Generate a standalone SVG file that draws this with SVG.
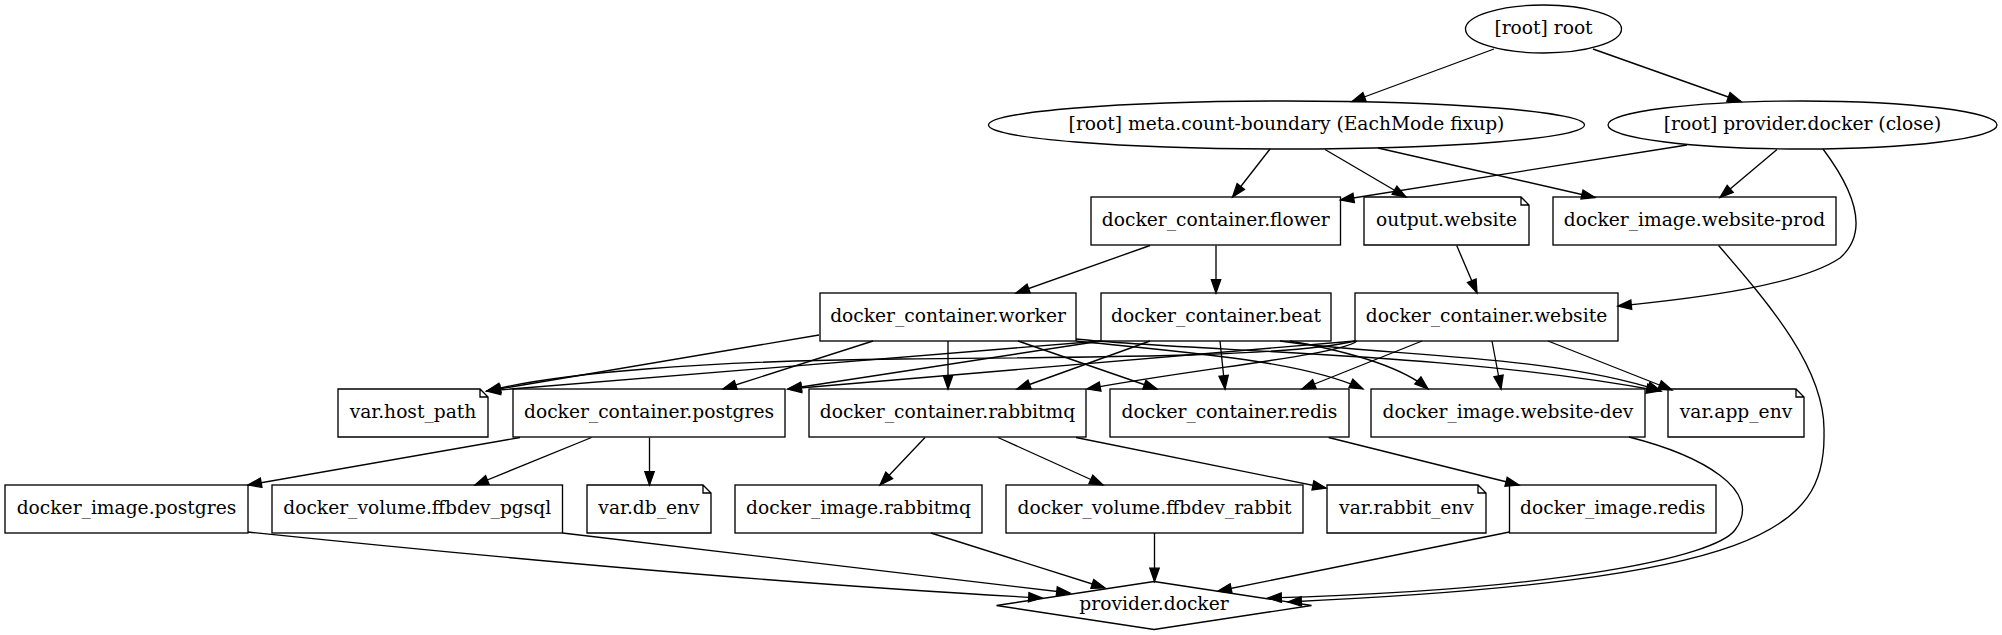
<svg xmlns="http://www.w3.org/2000/svg" width="2002" height="635" viewBox="0 0 2002 635">
<style>
.n{fill:none;stroke:#000;stroke-width:1.33}
.t{font-family:"DejaVu Serif","Liberation Serif",serif;font-size:18.67px;text-anchor:middle;fill:#000}
.e{fill:none;stroke:#000;stroke-width:1.33;marker-end:url(#ah)}
</style>
<defs>
<marker id="ah" markerUnits="userSpaceOnUse" markerWidth="16" markerHeight="12" refX="13.33" refY="4.67" orient="auto" overflow="visible">
<path d="M0,0 L13.33,4.67 L0,9.33 Z" fill="#000" stroke="#000" stroke-width="1.33"/>
</marker>
</defs>
<rect width="2002" height="635" fill="#fff"/>
<g id="edges">
<path class="e" d="M1494,49 L1352,101.5"/>
<path class="e" d="M1593,49 L1741,101.5"/>
<path class="e" d="M1270,149 L1232.6,197"/>
<path class="e" d="M1325,149.5 L1406,197"/>
<path class="e" d="M1378,148 L1595,197.5"/>
<path class="e" d="M1687,145 L1340.5,200"/>
<path class="e" d="M1777,149.5 L1720,197.5"/>
<path class="e" d="M1823,149 C1850,185 1872,230 1840,258 C1800,285 1700,298 1618,306"/>
<path class="e" d="M1150,245.5 L1016,293"/>
<path class="e" d="M1216,245.5 L1216,293"/>
<path class="e" d="M1456.7,245.5 L1477,293"/>
<path class="e" d="M819,335 L487,391"/>
<path class="e" d="M873,341 L723,389"/>
<path class="e" d="M948,341 L948,389"/>
<path class="e" d="M1018,341 L1157,389"/>
<path class="e" d="M1076,341 C1180,352 1300,360 1363,389"/>
<path class="e" d="M1076,339 C1200,352 1450,352 1660,391"/>
<path class="e" d="M1101,341 L487,391"/>
<path class="e" d="M1101,341 L788,389"/>
<path class="e" d="M1150,341 L1017,389"/>
<path class="e" d="M1220,341 L1225,389"/>
<path class="e" d="M1290,341 C1340,350 1400,365 1428,389"/>
<path class="e" d="M1280,341 C1380,356 1550,354 1661,391"/>
<path class="e" d="M1355,341 C1290,357 1100,357 900,359 C700,361 560,373 487,391"/>
<path class="e" d="M1355,341 L788,389"/>
<path class="e" d="M1357,341 C1340,355 1200,368 1087,389"/>
<path class="e" d="M1422,341 L1302,389"/>
<path class="e" d="M1492,341 L1501,389"/>
<path class="e" d="M1548,341 L1672,390"/>
<path class="e" d="M520,437.5 L248,485"/>
<path class="e" d="M591.5,437.5 L475,485"/>
<path class="e" d="M649.5,437.5 L649.5,485"/>
<path class="e" d="M925,437.5 L880,485"/>
<path class="e" d="M998,437.5 L1103,485"/>
<path class="e" d="M1076,437.5 L1326,488"/>
<path class="e" d="M1328.6,437.5 L1519,485"/>
<path class="e" d="M248,532 C500,558 800,585 1042,598"/>
<path class="e" d="M562.5,533 L1070,593"/>
<path class="e" d="M931,533 L1105,588"/>
<path class="e" d="M1154.5,533 L1154.5,581.5"/>
<path class="e" d="M1509.5,532 L1218,591"/>
<path class="e" d="M1629,437 C1700,455 1765,490 1735,530 C1715,557 1560,590 1268,598"/>
<path class="e" d="M1718.6,245.5 C1770,305 1826,370 1824,433 C1826,530 1760,580 1288,602"/>
</g>
<g id="root"><ellipse class="n" cx="1543.5" cy="29" rx="78" ry="24"/><text class="t" x="1543.5" y="34">[root] root</text></g>
<g id="meta"><ellipse class="n" cx="1286.5" cy="125" rx="298" ry="24"/><text class="t" x="1286.5" y="130">[root] meta.count-boundary (EachMode fixup)</text></g>
<g id="provider_close"><ellipse class="n" cx="1802.5" cy="125" rx="194.5" ry="24"/><text class="t" x="1802.5" y="130">[root] provider.docker (close)</text></g>
<g id="flower"><rect class="n" x="1091" y="197" width="249.5" height="48"/><text class="t" x="1215.75" y="226">docker_container.flower</text></g>
<g id="output_website"><path class="n" d="M1521,197 L1364,197 L1364,245 L1529,245 L1529,205 Z M1521,197 L1521,205 L1529,205"/><text class="t" x="1446.5" y="226">output.website</text></g>
<g id="website_prod"><rect class="n" x="1553" y="197" width="283" height="48"/><text class="t" x="1694.5" y="226">docker_image.website-prod</text></g>
<g id="worker"><rect class="n" x="820" y="293" width="256" height="48"/><text class="t" x="948" y="322">docker_container.worker</text></g>
<g id="beat"><rect class="n" x="1101" y="293" width="230" height="48"/><text class="t" x="1216" y="322">docker_container.beat</text></g>
<g id="website"><rect class="n" x="1355" y="293" width="263" height="48"/><text class="t" x="1486.5" y="322">docker_container.website</text></g>
<g id="host_path"><path class="n" d="M480,389 L338,389 L338,437 L488,437 L488,397 Z M480,389 L480,397 L488,397"/><text class="t" x="413" y="418">var.host_path</text></g>
<g id="postgres"><rect class="n" x="513" y="389" width="272" height="48"/><text class="t" x="649" y="418">docker_container.postgres</text></g>
<g id="rabbitmq"><rect class="n" x="809" y="389" width="277" height="48"/><text class="t" x="947.5" y="418">docker_container.rabbitmq</text></g>
<g id="redis"><rect class="n" x="1110" y="389" width="239" height="48"/><text class="t" x="1229.5" y="418">docker_container.redis</text></g>
<g id="website_dev"><rect class="n" x="1371" y="389" width="274" height="48"/><text class="t" x="1508" y="418">docker_image.website-dev</text></g>
<g id="app_env"><path class="n" d="M1796,389 L1668,389 L1668,437 L1804,437 L1804,397 Z M1796,389 L1796,397 L1804,397"/><text class="t" x="1736" y="418">var.app_env</text></g>
<g id="image_postgres"><rect class="n" x="5" y="485" width="243" height="48"/><text class="t" x="126.5" y="514">docker_image.postgres</text></g>
<g id="volume_pgsql"><rect class="n" x="272" y="485" width="290.5" height="48"/><text class="t" x="417.25" y="514">docker_volume.ffbdev_pgsql</text></g>
<g id="db_env"><path class="n" d="M703,485 L587,485 L587,533 L711,533 L711,493 Z M703,485 L703,493 L711,493"/><text class="t" x="649" y="514">var.db_env</text></g>
<g id="image_rabbitmq"><rect class="n" x="735" y="485" width="247" height="48"/><text class="t" x="858.5" y="514">docker_image.rabbitmq</text></g>
<g id="volume_rabbit"><rect class="n" x="1006" y="485" width="297" height="48"/><text class="t" x="1154.5" y="514">docker_volume.ffbdev_rabbit</text></g>
<g id="rabbit_env"><path class="n" d="M1478,485 L1327,485 L1327,533 L1486,533 L1486,493 Z M1478,485 L1478,493 L1486,493"/><text class="t" x="1406.5" y="514">var.rabbit_env</text></g>
<g id="image_redis"><rect class="n" x="1509.5" y="485" width="206.5" height="48"/><text class="t" x="1612.75" y="514">docker_image.redis</text></g>
<g id="provider_docker"><polygon class="n" points="1154,581.5 1311.5,605.5 1154,629.5 996.5,605.5"/><text class="t" x="1154" y="610">provider.docker</text></g>
</svg>
